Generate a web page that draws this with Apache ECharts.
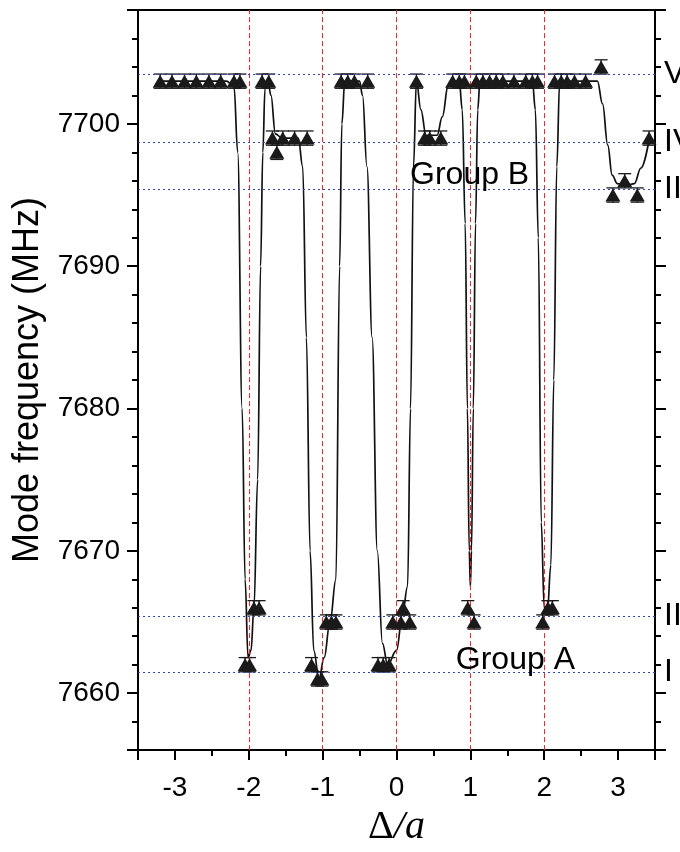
<!DOCTYPE html>
<html>
<head>
<meta charset="utf-8">
<script src="https://cdn.jsdelivr.net/npm/echarts@6/dist/echarts.min.js"></script>
<style>html,body{margin:0;padding:0;background:#fff}#c{width:680px;height:852px}</style>
</head>
<body>
<div id="c"></div>
<script>
// ---- data ----
const markX = [
  -3.20, -3.04, -2.87, -2.71, -2.54, -2.38, -2.20, -2.12,
  -2.05, -1.99,
  -1.93, -1.86,
  -1.82, -1.73,
  -1.68, -1.54, -1.38, -1.21,
  -1.62,
  -1.15,
  -1.07, -1.01,
  -0.95, -0.88, -0.82,
  -0.75, -0.66, -0.57, -0.39,
  -0.25, -0.18, -0.10,
  -0.05, 0.06, 0.18,
  0.09,
  0.27,
  0.38, 0.45, 0.60,
  0.76, 0.85, 0.92,
  0.965,
  1.05,
  1.08, 1.17, 1.26, 1.35, 1.44, 1.59, 1.75, 1.84, 1.91,
  1.98,
  2.05, 2.11,
  2.14, 2.23, 2.31, 2.41, 2.56,
  2.77,
  2.93, 3.09, 3.26, 3.42
];
const markY = [
  7703, 7703, 7703, 7703, 7703, 7703, 7703, 7703,
  7662, 7662,
  7666, 7666,
  7703, 7703,
  7699, 7699, 7699, 7699,
  7698,
  7662,
  7661, 7661,
  7665, 7665, 7665,
  7703, 7703, 7703, 7703,
  7662, 7662, 7662,
  7665, 7665, 7665,
  7666,
  7703,
  7699, 7699, 7699,
  7703, 7703, 7703,
  7666,
  7665,
  7703, 7703, 7703, 7703, 7703, 7703, 7703, 7703, 7703,
  7665,
  7666, 7666,
  7703, 7703, 7703, 7703, 7703,
  7704,
  7695, 7696, 7695, 7699
];
const markErr = [
  0.5, 0.5, 0.5, 0.5, 0.5, 0.5, 0.5, 0.5,
  0.5, 0.5,
  0.5, 0.5,
  0.5, 0.5,
  0.5, 0.5, 0.5, 0.5,
  0.5,
  0.5,
  0.5, 0.5,
  0.5, 0.5, 0.5,
  0.5, 0.5, 0.5, 0.5,
  0.5, 0.5, 0.5,
  0.5, 0.5, 0.5,
  0.5,
  0.5,
  0.5, 0.5, 0.5,
  0.5, 0.5, 0.5,
  0.5,
  0.5,
  0.5, 0.5, 0.5, 0.5, 0.5, 0.5, 0.5, 0.5, 0.5,
  0.5,
  0.5, 0.5,
  0.5, 0.5, 0.5, 0.5, 0.5,
  0.5,
  0.5, 0.5, 0.5, 0.5
];
// fitted guide curve
const fitX = [
  -3.20, -2.30, -2.20, -2.15, -2.09, -2.05, -2.01, -1.97, -1.93, -1.88, -1.84, -1.81, -1.78, -1.74,
  -1.70, -1.64, -1.55, -1.33, -1.27, -1.22, -1.17, -1.12, -1.05, -0.98, -0.90, -0.82, -0.77, -0.74,
  -0.70, -0.50, -0.46, -0.40, -0.33, -0.26, -0.19, -0.12, 0.00, 0.08, 0.15, 0.19, 0.23, 0.27,
  0.33, 0.40, 0.55, 0.62, 0.70, 0.78, 0.85, 0.89, 0.93, 0.96, 0.985, 1.00, 1.015, 1.04, 1.07, 1.10, 1.13,
  1.84, 1.88, 1.92, 1.96, 2.00, 2.04, 2.09, 2.13, 2.17, 2.21, 2.63, 2.72, 2.79, 2.86, 2.92,
  2.99, 3.13, 3.22, 3.31, 3.42
];
const fitY = [
  7703, 7703, 7702.6, 7698, 7680, 7668, 7662.5, 7663, 7666, 7675, 7690, 7698, 7702.5, 7703,
  7702, 7699.3, 7699, 7699, 7697, 7685, 7670, 7663, 7661, 7662.5, 7665, 7668, 7690, 7700,
  7703, 7703, 7702, 7697, 7685, 7670, 7663.5, 7662, 7663, 7665.5, 7667.5, 7680, 7697, 7703,
  7701, 7699.2, 7699.2, 7700.5, 7702.7, 7703, 7703, 7701, 7693, 7680, 7670, 7667.5, 7670, 7680, 7693, 7701, 7703,
  7703, 7701, 7692, 7672, 7666, 7665.5, 7669, 7682, 7697, 7703, 7703, 7703, 7701.4, 7698.5, 7696.4,
  7695.8, 7695.7, 7695.8, 7696.9, 7698.9
];
const refLineY = [7703.5, 7698.7, 7695.4, 7665.4, 7661.5];
const refLineLabels = ['V', 'IV', 'III', 'II', 'I'];
const gridLineX = [-2, -1, 0, 1, 2];
const groupLabels = ['Group B', 'Group A'];
const groupLabelX = [0.99, 1.61];
const groupLabelY = [7696.4, 7662.3];

// ---- chart ----
const font = '"Liberation Sans", Arial, Helvetica, sans-serif';
const serif = '"Liberation Serif", "Times New Roman", serif';
const chart = echarts.init(document.getElementById('c'), null, {renderer: 'canvas'});

const scatterData = markX.map((x, i) => [x, markY[i]]);
const errData = markX.map((x, i) => [x, markY[i], markErr[i]]);
const fitData = fitX.map((x, i) => [x, fitY[i]]);

const axisLineStyle = {color: '#000', width: 2};
const option = {
  animation: false,
  backgroundColor: '#fff',
  grid: {left: 138, right: 25, top: 10, bottom: 86, containLabel: false},
  xAxis: [{
    type: 'value', min: -3.5, max: 3.5, splitNumber: 7, position: 'bottom',
    name: '{d|Δ}{i|/a}', nameLocation: 'middle', nameGap: 46,
    nameTextStyle: {
      fontFamily: serif, fontSize: 38, color: '#000',
      rich: {
        d: {fontFamily: serif, fontStyle: 'normal', fontSize: 40, color: '#000'},
        i: {fontFamily: serif, fontStyle: 'italic', fontSize: 40, color: '#000'}
      }
    },
    axisLine: {show: true, onZero: false, lineStyle: axisLineStyle},
    axisTick: {show: true, inside: false, length: 10, lineStyle: {color: '#000', width: 2}},
    minorTick: {show: true, splitNumber: 2, length: 6, lineStyle: {color: '#000', width: 2}},
    axisLabel: {
      show: true, margin: 24, fontSize: 28, color: '#000', fontFamily: font,
      showMinLabel: false, showMaxLabel: false,
      formatter: v => (Math.abs(v - Math.round(v)) < 1e-9 ? String(Math.round(v)) : '')
    },
    splitLine: {show: false}
  }, {
    type: 'value', min: -3.5, max: 3.5, splitNumber: 7, position: 'top',
    axisLine: {show: true, onZero: false, lineStyle: axisLineStyle},
    axisTick: {show: false}, axisLabel: {show: false}, splitLine: {show: false}
  }],
  yAxis: [{
    type: 'value', min: 7656, max: 7708, splitNumber: 5, position: 'left',
    name: 'Mode frequency (MHz)', nameLocation: 'middle', nameGap: 92, nameRotate: 90,
    nameTextStyle: {fontSize: 36, fontFamily: font, color: '#000'},
    axisLine: {show: true, onZero: false, lineStyle: axisLineStyle},
    axisTick: {show: true, inside: false, length: 11, lineStyle: {color: '#000', width: 2}},
    minorTick: {show: true, splitNumber: 5, length: 6, lineStyle: {color: '#000', width: 2}},
    axisLabel: {show: true, margin: 18, fontSize: 28, color: '#000', fontFamily: font,
      showMinLabel: false, showMaxLabel: false,
      formatter: v => String(v)},
    splitLine: {show: false}
  }, {
    type: 'value', min: 7656, max: 7708, splitNumber: 5, position: 'right',
    axisLine: {show: true, onZero: false, lineStyle: axisLineStyle},
    axisTick: {show: true, inside: false, length: 11, lineStyle: {color: '#000', width: 2}},
    minorTick: {show: true, splitNumber: 5, length: 6, lineStyle: {color: '#000', width: 2}},
    axisLabel: {show: false},
    splitLine: {show: false}
  }],
  series: [{
    type: 'line',
    xAxisIndex: 0, yAxisIndex: 0,
    data: fitData,
    smooth: 0.4,
    smoothMonotone: 'x',
    showSymbol: false,
    symbol: 'none',
    lineStyle: {color: '#111', width: 1.7},
    z: 3,
    silent: true,
    markLine: {
      silent: true, symbol: 'none', animation: false,
      data: [
        ...gridLineX.map(v => ({
          xAxis: v,
          lineStyle: {color: '#ff2020', type: [5, 3], width: 1},
          label: {show: false}
        })),
        ...refLineY.map((v, i) => ({
          yAxis: v,
          lineStyle: {color: '#2f44b8', type: [2, 3], width: 1.2},
          label: {show: true, position: 'end', formatter: refLineLabels[i], distance: 9,
            fontSize: 32, color: '#000', fontFamily: font}
        }))
      ]
    }
  }, {
    type: 'custom',
    xAxisIndex: 0, yAxisIndex: 0,
    data: errData,
    encode: {x: 0, y: 1},
    z: 4,
    silent: true,
    renderItem: (params, api) => {
      const x = api.value(0), y = api.value(1), e = api.value(2);
      const top = api.coord([x, y + e]);
      const bot = api.coord([x, y - e]);
      const hw = 6.5;
      const st = {stroke: '#1a1a1a', lineWidth: 1.3};
      return {
        type: 'group',
        children: [
          {type: 'line', shape: {x1: top[0], y1: top[1], x2: bot[0], y2: bot[1]}, style: st},
          {type: 'line', shape: {x1: top[0] - hw, y1: top[1], x2: top[0] + hw, y2: top[1]}, style: st},
          {type: 'line', shape: {x1: bot[0] - hw, y1: bot[1], x2: bot[0] + hw, y2: bot[1]}, style: st}
        ]
      };
    }
  }, {
    type: 'scatter',
    xAxisIndex: 0, yAxisIndex: 0,
    data: scatterData,
    symbol: 'triangle',
    symbolSize: [15, 13],
    itemStyle: {color: '#1a1a1a', opacity: 1},
    z: 5,
    silent: true,
    markPoint: {
      silent: true,
      symbol: 'circle', symbolSize: 1,
      itemStyle: {color: 'rgba(0,0,0,0)'},
      label: {show: true, position: 'inside', formatter: '{b}', fontSize: 32, color: '#000', fontFamily: font},
      data: groupLabels.map((t, i) => ({name: t, coord: [groupLabelX[i], groupLabelY[i]]}))
    }
  }]
};
chart.setOption(option);
</script>
</body>
</html>
